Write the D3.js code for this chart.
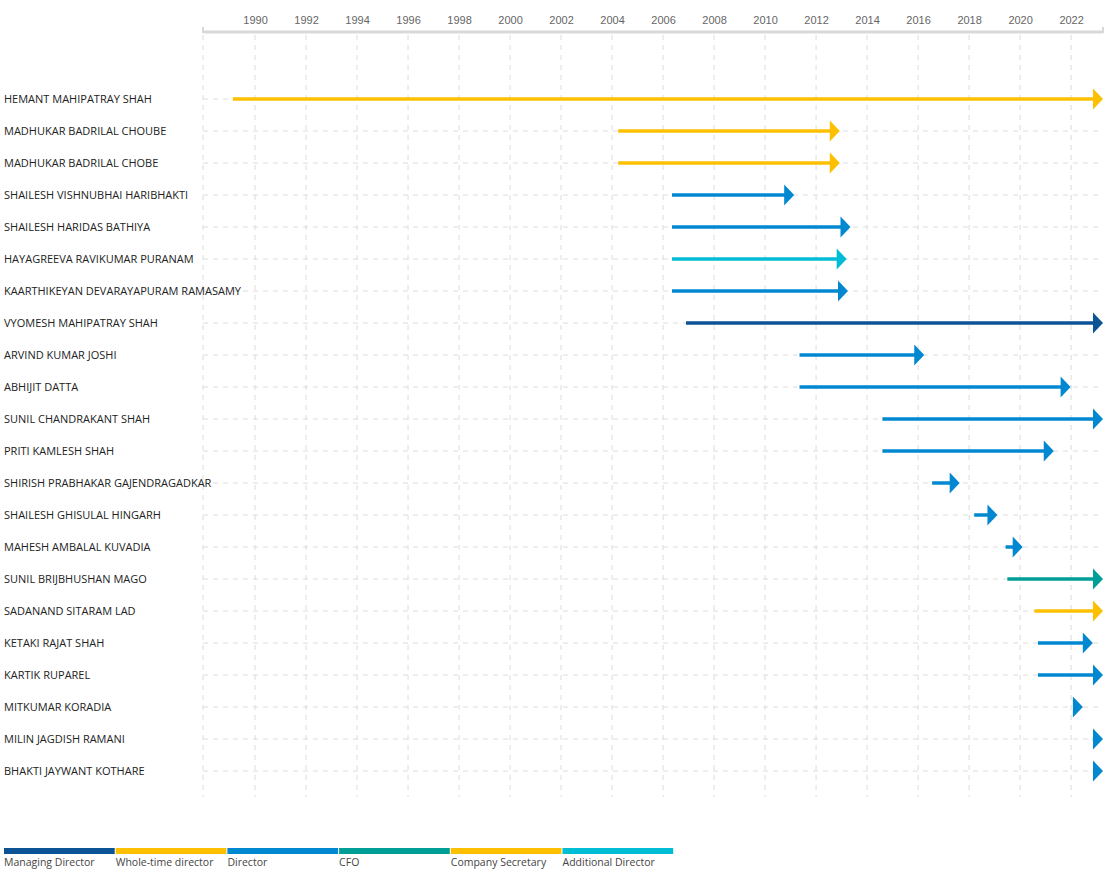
<!DOCTYPE html>
<html><head><meta charset="utf-8">
<script src="https://cdn.jsdelivr.net/npm/d3@7"></script>
<style>
body{margin:0;background:#fff;}
svg{display:block;}
</style></head>
<body>
<svg id="chart" width="1105" height="887"></svg>
<script>
const names = ["HEMANT MAHIPATRAY SHAH","MADHUKAR BADRILAL CHOUBE","MADHUKAR BADRILAL CHOBE","SHAILESH VISHNUBHAI HARIBHAKTI","SHAILESH HARIDAS BATHIYA","HAYAGREEVA RAVIKUMAR PURANAM","KAARTHIKEYAN DEVARAYAPURAM RAMASAMY","VYOMESH MAHIPATRAY SHAH","ARVIND KUMAR JOSHI","ABHIJIT DATTA","SUNIL CHANDRAKANT SHAH","PRITI KAMLESH SHAH","SHIRISH PRABHAKAR GAJENDRAGADKAR","SHAILESH GHISULAL HINGARH","MAHESH AMBALAL KUVADIA","SUNIL BRIJBHUSHAN MAGO","SADANAND SITARAM LAD","KETAKI RAJAT SHAH","KARTIK RUPAREL","MITKUMAR KORADIA","MILIN JAGDISH RAMANI","BHAKTI JAYWANT KOTHARE"];
const roles = ["Whole-time director","Whole-time director","Whole-time director","Director","Director","Additional Director","Director","Managing Director","Director","Director","Director","Director","Director","Director","Director","CFO","Company Secretary","Director","Director","Director","Director","Director"];
const starts = [1989.13,2004.24,2004.24,2006.35,2006.35,2006.35,2006.35,2006.9,2011.35,2011.35,2014.6,2014.6,2016.55,2018.2,2019.43,2019.5,2020.56,2020.7,2020.7,2022.1,2022.85,2023.05];
const ends = [2023.25,2012.93,2012.93,2011.14,2013.35,2013.2,2013.25,2023.25,2016.24,2021.98,2023.25,2021.32,2017.63,2019.11,2020.1,2023.25,2023.25,2022.85,2023.25,2022.46,2023.25,2023.25];
const legendRoles = ["Managing Director","Whole-time director","Director","CFO","Company Secretary","Additional Director"];
const legendColors = ["#0b5394","#fcc000","#0288d1","#009e96","#fcc000","#00bcd4"];
const tickYears = d3.range(1990, 2023, 2);
const domainYears = [1987.96, 2023.25];

const svg = d3.select("#chart");
const x = d3.scaleLinear().domain(domainYears).range([203, 1103]);
const y = d3.scalePoint().domain(names).range([99, 771]);
const color = d3.scaleOrdinal().domain(legendRoles).range(legendColors);

// vertical grid
const gridTop = 35, gridBottom = 797;
svg.append("g").selectAll("line").data([domainYears[0]].concat(tickYears)).join("line")
  .attr("x1", d => x(d)).attr("x2", d => x(d))
  .attr("y1", gridTop).attr("y2", gridBottom)
  .attr("stroke", "#dcdcdc").attr("stroke-width", 1).attr("stroke-dasharray", "5,5");

// horizontal grid
svg.append("g").selectAll("line").data(names).join("line")
  .attr("x1", x.range()[0]).attr("x2", x.range()[1])
  .attr("y1", d => y(d)).attr("y2", d => y(d))
  .attr("stroke", "#dcdcdc").attr("stroke-width", 1).attr("stroke-dasharray", "5,5");

// top axis
const axis = d3.axisTop(x).tickValues(tickYears).tickFormat(d3.format("d")).tickSize(0).tickPadding(8);
const ag = svg.append("g").attr("transform", "translate(0,32)").call(axis);
ag.select(".domain").remove();
ag.selectAll("text").attr("font-family", "Liberation Sans, Arial, sans-serif").attr("font-size", 11).attr("fill", "#666");
ag.append("line").attr("x1", x.range()[0]).attr("x2", x.range()[1]).attr("y1", 0).attr("y2", 0)
  .attr("stroke", "#d9d9d9").attr("stroke-width", 3);
ag.selectAll(".endtick").data(x.range()).join("line").attr("class","endtick")
  .attr("x1", d => d).attr("x2", d => d).attr("y1", -5).attr("y2", 1)
  .attr("stroke", "#d9d9d9").attr("stroke-width", 2);

// labels
svg.append("g").selectAll("text").data(names).join("text")
  .attr("x", 4).attr("y", d => y(d)).attr("dy", "0.35em")
  .attr("font-family", "Open Sans, sans-serif").attr("font-size", 11).attr("fill", "#222")
  .text(d => d);

// bars
const rows = names.map((n, i) => ({name: n, role: roles[i], s: starts[i], e: ends[i]}));
const aw = 10, ah = 10.5;
const bars = svg.append("g").selectAll("g").data(rows).join("g");
bars.append("line")
  .attr("x1", d => x(d.s)).attr("x2", d => Math.max(x(d.s), x(d.e) - aw + 1))
  .attr("y1", d => y(d.name)).attr("y2", d => y(d.name))
  .attr("stroke", d => color(d.role)).attr("stroke-width", 3.5);
bars.append("path")
  .attr("d", d => { const tx = x(d.e), ty = y(d.name); return `M${tx},${ty}L${tx-aw},${ty-ah}L${tx-aw},${ty+ah}Z`; })
  .attr("fill", d => color(d.role));

// legend
const lw = 111.7, lx0 = 4;
const lg = svg.append("g").selectAll("g").data(legendRoles).join("g")
  .attr("transform", (d, i) => `translate(${lx0 + i * lw},848)`);
lg.append("rect").attr("width", lw - 1).attr("height", 6).attr("fill", (d, i) => legendColors[i]);
lg.append("text").attr("x", 0).attr("y", 18).attr("font-family", "Open Sans, sans-serif")
  .attr("font-size", 10.5).attr("fill", "#444").text(d => d);
</script>
</body></html>
